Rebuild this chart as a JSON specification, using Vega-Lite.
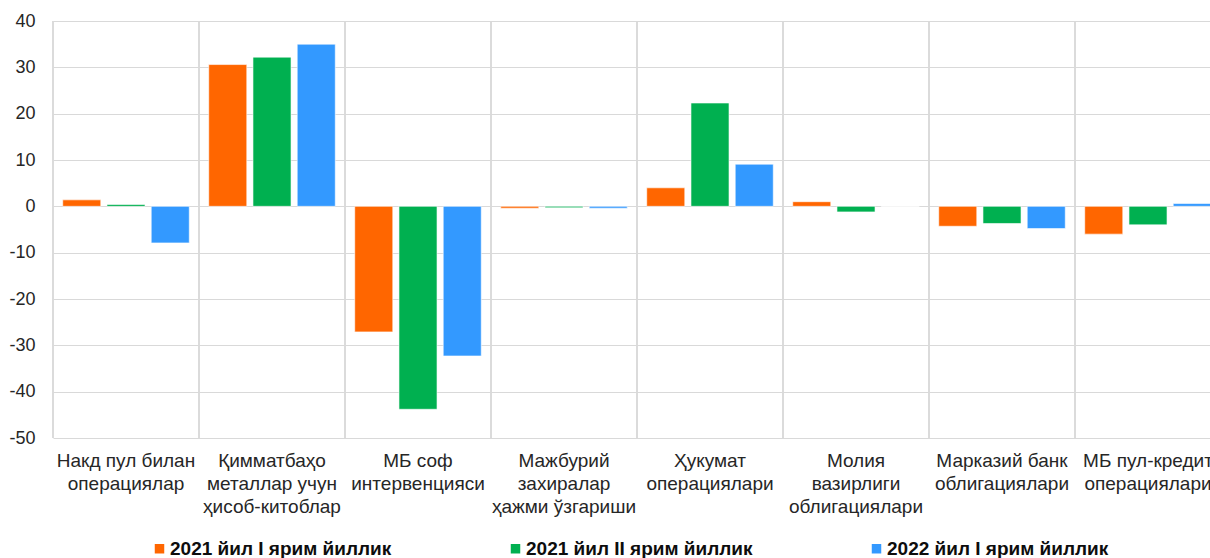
{
  "$schema": "https://vega.github.io/schema/vega-lite/v6.json",
  "autosize": {"type": "none"},
  "padding": {"left": 53, "top": 21, "right": 0, "bottom": 120},
  "width": 1168,
  "height": 417,
  "background": "white",
  "config": {
    "view": {"stroke": null},
    "font": "Liberation Sans",
    "axis": {"labelColor": "#262626", "labelFont": "Liberation Sans"}
  },
  "data": {
    "values": [
      {"cat": "Накд пул билан|операциялар", "series": "2021 йил I ярим йиллик", "value": 1.4},
      {"cat": "Накд пул билан|операциялар", "series": "2021 йил II ярим йиллик", "value": 0.4},
      {"cat": "Накд пул билан|операциялар", "series": "2022 йил I ярим йиллик", "value": -7.9},
      {"cat": "Қимматбаҳо|металлар учун|ҳисоб-китоблар", "series": "2021 йил I ярим йиллик", "value": 30.6},
      {"cat": "Қимматбаҳо|металлар учун|ҳисоб-китоблар", "series": "2021 йил II ярим йиллик", "value": 32.2},
      {"cat": "Қимматбаҳо|металлар учун|ҳисоб-китоблар", "series": "2022 йил I ярим йиллик", "value": 35.0},
      {"cat": "МБ соф|интервенцияси", "series": "2021 йил I ярим йиллик", "value": -27.1},
      {"cat": "МБ соф|интервенцияси", "series": "2021 йил II ярим йиллик", "value": -43.8},
      {"cat": "МБ соф|интервенцияси", "series": "2022 йил I ярим йиллик", "value": -32.3},
      {"cat": "Мажбурий|захиралар|ҳажми ўзгариши", "series": "2021 йил I ярим йиллик", "value": -0.4},
      {"cat": "Мажбурий|захиралар|ҳажми ўзгариши", "series": "2021 йил II ярим йиллик", "value": -0.3},
      {"cat": "Мажбурий|захиралар|ҳажми ўзгариши", "series": "2022 йил I ярим йиллик", "value": -0.4},
      {"cat": "Ҳукумат|операциялари", "series": "2021 йил I ярим йиллик", "value": 4.0},
      {"cat": "Ҳукумат|операциялари", "series": "2021 йил II ярим йиллик", "value": 22.3},
      {"cat": "Ҳукумат|операциялари", "series": "2022 йил I ярим йиллик", "value": 9.1},
      {"cat": "Молия|вазирлиги|облигациялари", "series": "2021 йил I ярим йиллик", "value": 1.0},
      {"cat": "Молия|вазирлиги|облигациялари", "series": "2021 йил II ярим йиллик", "value": -1.2},
      {"cat": "Молия|вазирлиги|облигациялари", "series": "2022 йил I ярим йиллик", "value": 0.0},
      {"cat": "Марказий банк|облигациялари", "series": "2021 йил I ярим йиллик", "value": -4.3},
      {"cat": "Марказий банк|облигациялари", "series": "2021 йил II ярим йиллик", "value": -3.7},
      {"cat": "Марказий банк|облигациялари", "series": "2022 йил I ярим йиллик", "value": -4.8},
      {"cat": "МБ пул-кредит|операциялари", "series": "2021 йил I ярим йиллик", "value": -6.0},
      {"cat": "МБ пул-кредит|операциялари", "series": "2021 йил II ярим йиллик", "value": -4.0},
      {"cat": "МБ пул-кредит|операциялари", "series": "2022 йил I ярим йиллик", "value": 0.6}
    ]
  },
  "encoding": {
    "x": {
      "field": "cat",
      "type": "nominal",
      "sort": null,
      "scale": {"paddingInner": 0, "paddingOuter": 0},
      "axis": {
        "title": null,
        "labelAngle": 0,
        "labelExpr": "split(datum.label, '|')",
        "labelFontSize": 19,
        "labelLineHeight": 23,
        "labelPadding": 13,
        "labelBaseline": "top",
        "ticks": false,
        "domain": false,
        "grid": false,
        "labelLimit": 200
      }
    }
  },
  "layer": [
    {
      "mark": {"type": "rule", "color": "#d9d9d9", "strokeWidth": 1.2},
      "encoding": {
        "x": {"field": "cat", "type": "nominal", "sort": null, "bandPosition": 0}
      }
    },
    {
      "mark": {"type": "bar", "stroke": "white", "strokeWidth": 0.6},
      "encoding": {
        "xOffset": {
          "field": "series",
          "type": "nominal",
          "sort": null,
          "scale": {"paddingInner": 0.14, "paddingOuter": 0.22}
        },
        "y": {
          "field": "value",
          "type": "quantitative",
          "scale": {"domain": [-50, 40], "nice": false, "zero": false},
          "axis": {
            "title": null,
            "values": [-50, -40, -30, -20, -10, 0, 10, 20, 30, 40],
            "labelExpr": "toString(datum.value)",
            "labelFontSize": 18,
            "labelPadding": 18,
            "ticks": false,
            "domain": false,
            "grid": true,
            "gridColor": "#d9d9d9",
            "gridWidth": 1.2
          }
        },
        "color": {
          "field": "series",
          "type": "nominal",
          "sort": null,
          "scale": {
            "domain": ["2021 йил I ярим йиллик", "2021 йил II ярим йиллик", "2022 йил I ярим йиллик"],
            "range": ["#FF6600", "#00B050", "#3399FF"]
          },
          "legend": {
            "title": null,
            "orient": "none",
            "legendX": 97,
            "legendY": 518,
            "direction": "horizontal",
            "symbolType": "square",
            "symbolSize": 90,
            "symbolStrokeWidth": 0,
            "labelFontSize": 19,
            "labelFontWeight": "bold",
            "labelColor": "#0d0d0d",
            "labelOffset": 1,
            "columnPadding": 114,
            "labelLimit": 400
          }
        }
      }
    }
  ]
}
